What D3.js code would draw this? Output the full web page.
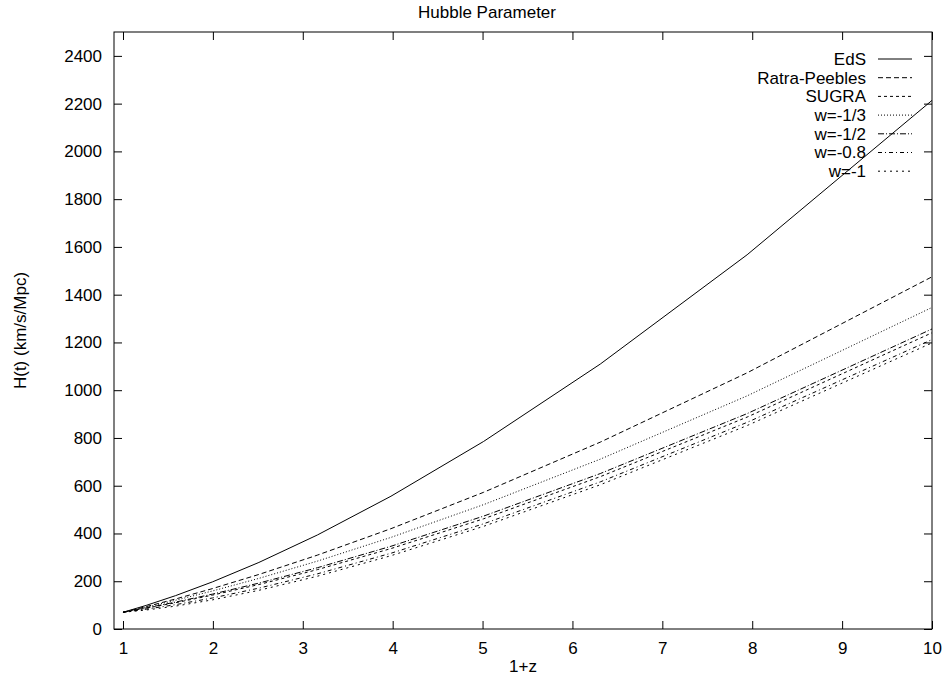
<!DOCTYPE html>
<html>
<head>
<meta charset="utf-8">
<script src="https://cdn.jsdelivr.net/npm/d3@7"></script>
<style>
  body { margin: 0; background: #fff; }
  svg { display: block; }
  text { font-family: "Liberation Sans", Arial, sans-serif; fill: #000; }
</style>
</head>
<body>
<svg id="chart" width="942" height="677"></svg>
<script>
// 1+z sample points
const onePlusZ = [1, 1.2589, 1.5849, 1.9953, 2.5119, 3.1623, 3.9811, 5.0119, 6.3096, 7.9433, 10];

const hEdS   = [70, 98.9, 139.7, 197.3, 278.7, 393.6, 556.0, 785.4, 1109.4, 1567.1, 2213.6];
const hRP    = [70, 93.7, 125.7, 169.2, 228.4, 309.3, 420.1, 572.5, 782.5, 1072.7, 1474.8];
const hSUGRA = [70, 87.0, 110.0, 141.8, 186.2, 248.6, 336.8, 461.5, 637.9, 887.4, 1240.4];
const hW13   = [70, 91.5, 120.3, 159.2, 212.0, 284.2, 383.6, 520.8, 711.2, 976.3, 1346.5];
const hW12   = [70, 88.2, 112.7, 146.1, 192.2, 256.5, 346.4, 472.8, 650.9, 902.0, 1256.4];
const hW08   = [70, 82.9, 101.9, 129.9, 171.1, 230.9, 317.2, 440.6, 616.1, 865.3, 1212.0];
const hW1    = [70, 79.6, 95.8, 122.0, 162.0, 221.0, 307.0, 430.0, 604.0, 852.0, 1198.0];

const seriesNames = ["EdS", "Ratra-Peebles", "SUGRA", "w=-1/3", "w=-1/2", "w=-0.8", "w=-1"];
const seriesValues = [hEdS, hRP, hSUGRA, hW13, hW12, hW08, hW1];
const dashes = ["none", "5,3", "3,3", "1,2", "6,2,1,2", "4,3,1,3", "2,4"];

const xTicks = [1, 2, 3, 4, 5, 6, 7, 8, 9, 10];
const yTicks = [0, 200, 400, 600, 800, 1000, 1200, 1400, 1600, 1800, 2000, 2200, 2400];

const titleText = "Hubble Parameter";
const xLabel = "1+z";
const yLabel = "H(t) (km/s/Mpc)";

const W = 942, H = 677;
const margin = {left: 114, right: 10, top: 32, bottom: 48};
const iw = W - margin.left - margin.right;
const ih = H - margin.top - margin.bottom;

const svg = d3.select("#chart");
const g = svg.append("g").attr("transform", `translate(${margin.left},${margin.top})`);

const x = d3.scaleLinear().domain([0.9, 10]).range([0, iw]);
const y = d3.scaleLinear().domain([0, 2500]).range([ih, 0]);

const fs = 17;
const tick = 8;

// axes
const xAxis = g.append("g").attr("transform", `translate(0,${ih})`)
  .call(d3.axisBottom(x).tickValues(xTicks).tickFormat(d3.format("d")).tickSizeInner(-tick).tickSizeOuter(0).tickPadding(13));
const xAxisTop = g.append("g")
  .call(d3.axisTop(x).tickValues(xTicks).tickFormat("").tickSizeInner(-tick).tickSizeOuter(0));
const yAxis = g.append("g")
  .call(d3.axisLeft(y).tickValues(yTicks).tickFormat(d3.format("d")).tickSizeInner(-tick).tickSizeOuter(0).tickPadding(12));
const yAxisRight = g.append("g").attr("transform", `translate(${iw},0)`)
  .call(d3.axisRight(y).tickValues(yTicks).tickFormat("").tickSizeInner(-tick).tickSizeOuter(0));

[xAxis, xAxisTop, yAxis, yAxisRight].forEach(a => {
  a.select(".domain").remove();
  a.selectAll("line").attr("stroke", "#000").attr("stroke-width", 1);
  a.selectAll("text").attr("font-size", fs).attr("font-family", "Liberation Sans, Arial, sans-serif").attr("fill", "#000");
});

// clip
svg.append("defs").append("clipPath").attr("id", "clip")
  .append("rect").attr("width", iw).attr("height", ih);

const line = d3.line().x((d, i) => x(onePlusZ[i])).y(d => y(d));

const plot = g.append("g").attr("clip-path", "url(#clip)");
seriesValues.forEach((vals, k) => {
  plot.append("path")
    .attr("d", line(vals))
    .attr("fill", "none")
    .attr("stroke", "#000")
    .attr("stroke-width", 1)
    .attr("stroke-dasharray", dashes[k]);
});

// legend
const legend = g.append("g");
const legX = 752, legY0 = 27, legDy = 18.7;
seriesNames.forEach((name, k) => {
  const yy = legY0 + k * legDy;
  legend.append("text")
    .attr("x", legX).attr("y", yy).attr("dy", "0.35em")
    .attr("text-anchor", "end").attr("font-size", fs)
    .text(name);
  legend.append("line")
    .attr("x1", legX + 12).attr("x2", legX + 46)
    .attr("y1", yy).attr("y2", yy)
    .attr("stroke", "#000").attr("stroke-width", 1)
    .attr("stroke-dasharray", dashes[k]);
});

// border
g.append("rect").attr("width", iw).attr("height", ih)
  .attr("fill", "none").attr("stroke", "#000").attr("stroke-width", 1);

// titles
svg.append("text").attr("x", 487).attr("y", 18).attr("text-anchor", "middle")
  .attr("font-size", fs).text(titleText);
svg.append("text").attr("x", margin.left + iw / 2).attr("y", 672).attr("text-anchor", "middle")
  .attr("font-size", fs).text(xLabel);
svg.append("text").attr("transform", `translate(26,${margin.top + ih / 2}) rotate(-90)`)
  .attr("text-anchor", "middle").attr("font-size", fs).text(yLabel);
</script>
</body>
</html>
